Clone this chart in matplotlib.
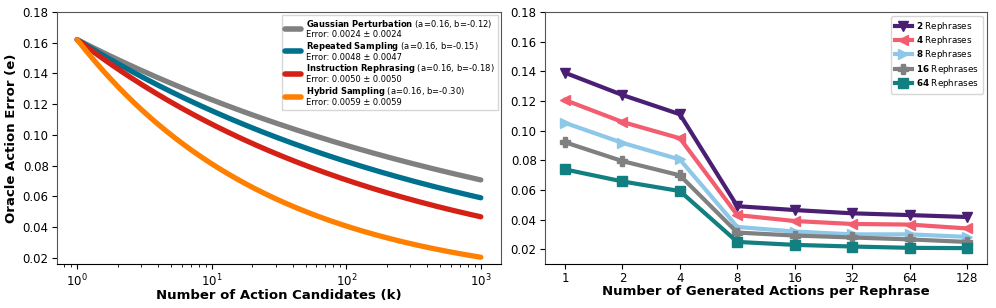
import numpy as np
import matplotlib
matplotlib.use("Agg")
import matplotlib.pyplot as plt

# ---- Left panel data (power-law fits e = a * k^b) ----
methods = ["Gaussian Perturbation", "Repeated Sampling", "Instruction Rephrasing", "Hybrid Sampling"]
fit_a = [0.162, 0.162, 0.162, 0.162]
fit_b = [-0.12, -0.146, -0.18, -0.30]
legend_a = ["0.16", "0.16", "0.16", "0.16"]
legend_b = ["-0.12", "-0.15", "-0.18", "-0.30"]
err_mean = ["0.0024", "0.0048", "0.0050", "0.0059"]
err_std = ["0.0024", "0.0047", "0.0050", "0.0059"]
left_colors = ["#808080", "#00708f", "#d42015", "#ff8000"]

# ---- Right panel data ----
x_labels = ["1", "2", "4", "8", "16", "32", "64", "128"]
rephrase_counts = ["2", "4", "8", "16", "64"]
err_2 = [0.139, 0.124, 0.111, 0.049, 0.0464, 0.0442, 0.043, 0.0417]
err_4 = [0.1206, 0.1058, 0.0948, 0.043, 0.039, 0.037, 0.0366, 0.034]
err_8 = [0.1052, 0.0917, 0.0805, 0.035, 0.0319, 0.030, 0.030, 0.0283]
err_16 = [0.0921, 0.0794, 0.0698, 0.0312, 0.0292, 0.0279, 0.0266, 0.0249]
err_64 = [0.0738, 0.0657, 0.0592, 0.0249, 0.0229, 0.0218, 0.0209, 0.0207]
right_series = [err_2, err_4, err_8, err_16, err_64]
right_colors = ["#4a1f73", "#f25d6f", "#8ec8e8", "#808080", "#127f80"]
right_markers = ["v", "<", ">", "P", "s"]

fig = plt.figure(figsize=(9.96, 3.08), dpi=100)
ax1 = fig.add_axes([57 / 996, 1 - 264 / 308, (501 - 57) / 996, (264 - 12) / 308])
ax2 = fig.add_axes([545 / 996, 1 - 264 / 308, (987 - 545) / 996, (264 - 12) / 308])

k = np.logspace(0, 3, 300)
for name, a, b, la, lb, em, es, c in zip(methods, fit_a, fit_b, legend_a, legend_b, err_mean, err_std, left_colors):
    bold = r"$\bf{" + name.replace(" ", r"\ ") + "}$"
    label = f"{bold} (a={la}, b={lb})\nError: {em} ± {es}"
    ax1.plot(k, a * k ** b, color=c, lw=3.8, label=label, solid_capstyle="round")
ax1.set_xscale("log")
ax1.set_ylim(0.016, 0.18)
ax1.set_yticks(np.arange(0.02, 0.181, 0.02))
ax1.set_xlabel("Number of Action Candidates (k)", fontsize=9.5, fontweight="bold", labelpad=0)
ax1.set_ylabel("Oracle Action Error (e)", fontsize=9.5, fontweight="bold", labelpad=3)
leg1 = ax1.legend(loc="upper right", fontsize=6.0, handlelength=2.0, labelspacing=0.1,
                  borderpad=0.35, handletextpad=0.6, borderaxespad=0.35, fancybox=False)
for t in leg1.get_texts():
    t.set_linespacing(1.0)
for h in leg1.get_lines():
    h.set_linewidth(4)

xpos = np.arange(len(x_labels))
for vals, n, c, m in zip(right_series, rephrase_counts, right_colors, right_markers):
    ax2.plot(xpos, vals, color=c, marker=m, lw=3, ms=7.5, label=r"$\bf{" + n + "}$ Rephrases")
ax2.set_xticks(xpos)
ax2.set_xticklabels(x_labels)
ax2.set_xlim(-0.35, 7.35)
ax2.set_ylim(0.01, 0.18)
ax2.set_yticks(np.arange(0.02, 0.181, 0.02))
ax2.set_xlabel("Number of Generated Actions per Rephrase", fontsize=9.5, fontweight="bold", labelpad=0)
ax2.legend(loc="upper right", fontsize=6.3, labelspacing=0.15, handlelength=2.0,
           borderpad=0.4, borderaxespad=0.5, handletextpad=0.5)

for ax in (ax1, ax2):
    ax.tick_params(labelsize=8.5, pad=2.5)
    for s in ax.spines.values():
        s.set_color("#555555")
    ax.spines["bottom"].set_color("black")

fig.savefig("out.png", dpi=100)
